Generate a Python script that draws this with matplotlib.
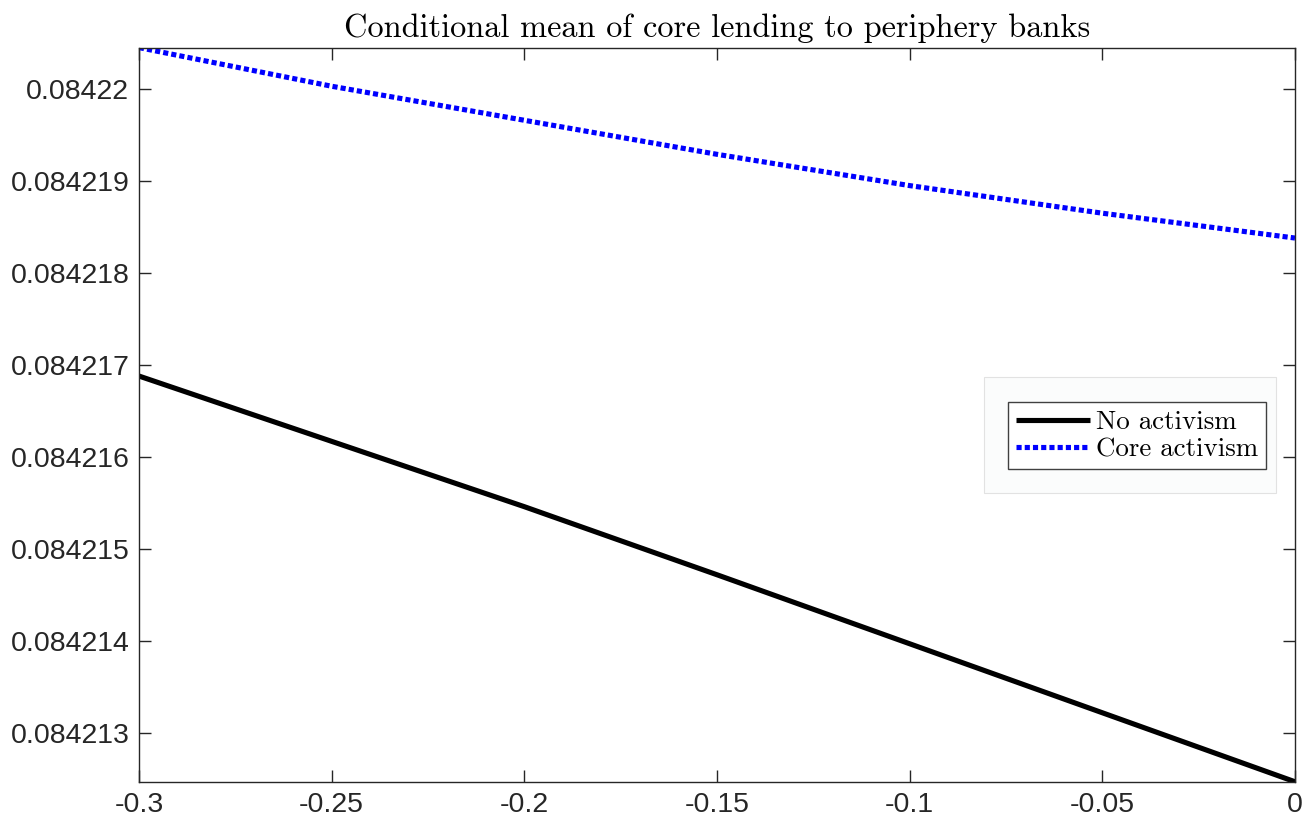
import numpy as np
import matplotlib
matplotlib.use("Agg")
import matplotlib.pyplot as plt
from matplotlib.ticker import FuncFormatter
from matplotlib.patches import Rectangle

# values
x_vals = [-0.3, -0.25, -0.2, -0.15, -0.1, -0.05, 0.0]
no_activism = [0.08421688, 0.08421617, 0.08421546, 0.08421472,
               0.08421397, 0.08421322, 0.08421247]
core_activism = [0.08422045, 0.08422003, 0.08421966, 0.08421929,
                 0.08421895, 0.08421865, 0.08421838]
series_labels = ["No activism", "Core activism"]
x_ticks = [-0.3, -0.25, -0.2, -0.15, -0.1, -0.05, 0.0]
y_ticks = [0.084213, 0.084214, 0.084215, 0.084216,
           0.084217, 0.084218, 0.084219, 0.084220]
title = "Conditional mean of core lending to periphery banks"

plt.rcParams['axes.unicode_minus'] = False
dark = "#262626"

fig = plt.figure(figsize=(13.12, 8.27), dpi=100)
ax = fig.add_axes([139 / 1312, 1 - 782 / 827, 1156 / 1312, 734 / 827])

ax.plot(x_vals, no_activism, color="black", lw=3.7, label=series_labels[0],
        solid_capstyle="butt")
ax.plot(x_vals, core_activism, color="#0000ff", lw=3.7,
        linestyle=(0, (1.0, 0.6)), dash_capstyle="butt",
        label=series_labels[1])

ax.set_xlim(-0.3, 0.0)
ax.set_ylim(0.084213 - 49 / 92 * 1e-6, 0.084220 + 41 / 92 * 1e-6)
ax.set_xticks(x_ticks)
ax.set_yticks(y_ticks)
ax.xaxis.set_major_formatter(FuncFormatter(lambda v, p: "{:g}".format(round(v, 4))))
ax.yaxis.set_major_formatter(FuncFormatter(lambda v, p: "{:.5g}".format(v)))

ax.tick_params(direction="in", length=8.5, width=1.0, color=dark,
               top=True, right=True, labelsize=20.5, labelcolor=dark, pad=7)
for lab in ax.get_xticklabels() + ax.get_yticklabels():
    lab.set_family("Liberation Sans")
for sp in ax.spines.values():
    sp.set_color(dark)
    sp.set_linewidth(1.0)

ax.set_title(title, family="cmr10", fontsize=23.3, color="black", pad=8)

# faint background panel behind the legend (as in the original export)
panel = Rectangle((984 / 1312, 1 - 493 / 827), 292 / 1312, 116 / 827,
                  transform=fig.transFigure, facecolor="#fbfcfc",
                  edgecolor="#e2e2e2", lw=0.8, zorder=4, clip_on=False)
ax.add_patch(panel)

leg = ax.legend(loc="upper left", bbox_to_anchor=((1008 - 139) / 1156, (782 - 402) / 734),
                borderaxespad=0, prop={"family": "cmr10", "size": 19.4},
                handlelength=2.75, handletextpad=0.2, borderpad=0.3,
                labelspacing=0.12, fancybox=False, framealpha=1)
leg.get_frame().set_edgecolor("#404040")
leg.get_frame().set_linewidth(1.0)
leg.set_zorder(5)

fig.savefig("out.png", dpi=100)
